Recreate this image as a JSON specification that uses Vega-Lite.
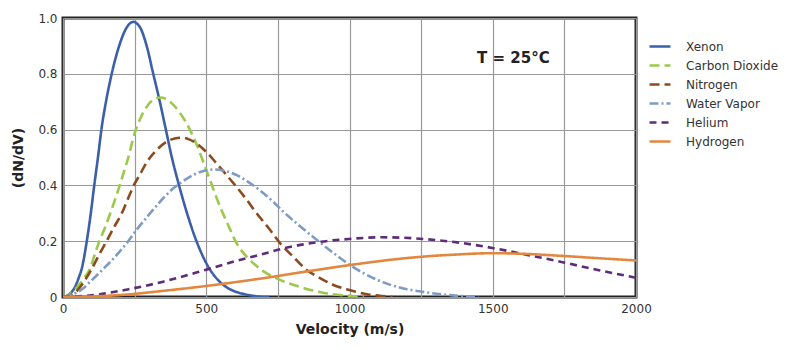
{
  "$schema": "https://vega.github.io/schema/vega-lite/v6.json",
  "width": 573,
  "height": 279,
  "autosize": {"type": "none"},
  "padding": {"left": 63, "top": 18, "right": 164, "bottom": 53},
  "background": "white",
  "config": {
    "font": "DejaVu Sans",
    "view": {"stroke": "#222", "strokeWidth": 3},
    "axis": {"grid": true, "gridColor": "#999", "gridWidth": 1.2, "domain": false, "ticks": false, "labelFlush": false, "labelFont": "DejaVu Sans", "labelFontSize": 12, "labelColor": "#333", "titleFont": "DejaVu Sans", "titleFontWeight": "bold", "titleFontSize": 14, "titleColor": "#222"}
  },
  "layer": [
    {
      "data": {"values": [
        {"gas":"Xenon","v":0,"y":0},{"gas":"Xenon","v":15,"y":0.005},{"gas":"Xenon","v":30,"y":0.018},{"gas":"Xenon","v":40,"y":0.032},{"gas":"Xenon","v":48,"y":0.05},{"gas":"Xenon","v":57,"y":0.075},{"gas":"Xenon","v":65,"y":0.1},{"gas":"Xenon","v":75,"y":0.15},{"gas":"Xenon","v":83,"y":0.2},{"gas":"Xenon","v":97,"y":0.3},{"gas":"Xenon","v":109,"y":0.4},{"gas":"Xenon","v":122,"y":0.5},{"gas":"Xenon","v":134,"y":0.6},{"gas":"Xenon","v":150,"y":0.7},{"gas":"Xenon","v":170,"y":0.8},{"gas":"Xenon","v":196,"y":0.9},{"gas":"Xenon","v":220,"y":0.962},{"gas":"Xenon","v":245,"y":0.986},{"gas":"Xenon","v":268,"y":0.968},{"gas":"Xenon","v":292,"y":0.9},{"gas":"Xenon","v":315,"y":0.8},{"gas":"Xenon","v":338,"y":0.7},{"gas":"Xenon","v":359,"y":0.6},{"gas":"Xenon","v":380,"y":0.5},{"gas":"Xenon","v":405,"y":0.4},{"gas":"Xenon","v":433,"y":0.3},{"gas":"Xenon","v":466,"y":0.2},{"gas":"Xenon","v":512,"y":0.1},{"gas":"Xenon","v":540,"y":0.062},{"gas":"Xenon","v":571,"y":0.035},{"gas":"Xenon","v":600,"y":0.02},{"gas":"Xenon","v":630,"y":0.011},{"gas":"Xenon","v":665,"y":0.004},{"gas":"Xenon","v":700,"y":0},{"gas":"Xenon","v":720,"y":0},
        {"gas":"Carbon Dioxide","v":0,"y":0},{"gas":"Carbon Dioxide","v":24,"y":0.01},{"gas":"Carbon Dioxide","v":53,"y":0.04},{"gas":"Carbon Dioxide","v":75,"y":0.07},{"gas":"Carbon Dioxide","v":94,"y":0.1},{"gas":"Carbon Dioxide","v":110,"y":0.15},{"gas":"Carbon Dioxide","v":127,"y":0.2},{"gas":"Carbon Dioxide","v":147,"y":0.25},{"gas":"Carbon Dioxide","v":165,"y":0.3},{"gas":"Carbon Dioxide","v":182,"y":0.35},{"gas":"Carbon Dioxide","v":198,"y":0.4},{"gas":"Carbon Dioxide","v":213,"y":0.45},{"gas":"Carbon Dioxide","v":228,"y":0.5},{"gas":"Carbon Dioxide","v":248,"y":0.58},{"gas":"Carbon Dioxide","v":270,"y":0.64},{"gas":"Carbon Dioxide","v":298,"y":0.69},{"gas":"Carbon Dioxide","v":320,"y":0.71},{"gas":"Carbon Dioxide","v":338,"y":0.715},{"gas":"Carbon Dioxide","v":360,"y":0.71},{"gas":"Carbon Dioxide","v":379,"y":0.695},{"gas":"Carbon Dioxide","v":408,"y":0.66},{"gas":"Carbon Dioxide","v":443,"y":0.6},{"gas":"Carbon Dioxide","v":465,"y":0.55},{"gas":"Carbon Dioxide","v":484,"y":0.5},{"gas":"Carbon Dioxide","v":502,"y":0.45},{"gas":"Carbon Dioxide","v":520,"y":0.4},{"gas":"Carbon Dioxide","v":538,"y":0.35},{"gas":"Carbon Dioxide","v":558,"y":0.3},{"gas":"Carbon Dioxide","v":580,"y":0.25},{"gas":"Carbon Dioxide","v":602,"y":0.2},{"gas":"Carbon Dioxide","v":628,"y":0.16},{"gas":"Carbon Dioxide","v":655,"y":0.13},{"gas":"Carbon Dioxide","v":700,"y":0.092},{"gas":"Carbon Dioxide","v":754,"y":0.063},{"gas":"Carbon Dioxide","v":800,"y":0.045},{"gas":"Carbon Dioxide","v":847,"y":0.03},{"gas":"Carbon Dioxide","v":900,"y":0.017},{"gas":"Carbon Dioxide","v":940,"y":0.01},{"gas":"Carbon Dioxide","v":1000,"y":0.004},{"gas":"Carbon Dioxide","v":1050,"y":0},
        {"gas":"Nitrogen","v":0,"y":0},{"gas":"Nitrogen","v":42,"y":0.016},{"gas":"Nitrogen","v":70,"y":0.05},{"gas":"Nitrogen","v":100,"y":0.1},{"gas":"Nitrogen","v":125,"y":0.15},{"gas":"Nitrogen","v":152,"y":0.2},{"gas":"Nitrogen","v":178,"y":0.25},{"gas":"Nitrogen","v":205,"y":0.3},{"gas":"Nitrogen","v":226,"y":0.35},{"gas":"Nitrogen","v":247,"y":0.4},{"gas":"Nitrogen","v":269,"y":0.44},{"gas":"Nitrogen","v":285,"y":0.47},{"gas":"Nitrogen","v":304,"y":0.5},{"gas":"Nitrogen","v":330,"y":0.53},{"gas":"Nitrogen","v":362,"y":0.557},{"gas":"Nitrogen","v":390,"y":0.568},{"gas":"Nitrogen","v":415,"y":0.571},{"gas":"Nitrogen","v":440,"y":0.565},{"gas":"Nitrogen","v":467,"y":0.55},{"gas":"Nitrogen","v":500,"y":0.52},{"gas":"Nitrogen","v":536,"y":0.479},{"gas":"Nitrogen","v":570,"y":0.438},{"gas":"Nitrogen","v":606,"y":0.394},{"gas":"Nitrogen","v":640,"y":0.35},{"gas":"Nitrogen","v":672,"y":0.305},{"gas":"Nitrogen","v":717,"y":0.248},{"gas":"Nitrogen","v":760,"y":0.19},{"gas":"Nitrogen","v":800,"y":0.148},{"gas":"Nitrogen","v":847,"y":0.1},{"gas":"Nitrogen","v":900,"y":0.066},{"gas":"Nitrogen","v":940,"y":0.045},{"gas":"Nitrogen","v":1000,"y":0.025},{"gas":"Nitrogen","v":1056,"y":0.011},{"gas":"Nitrogen","v":1100,"y":0.005},{"gas":"Nitrogen","v":1150,"y":0},
        {"gas":"Water Vapor","v":0,"y":0},{"gas":"Water Vapor","v":30,"y":0.008},{"gas":"Water Vapor","v":63,"y":0.025},{"gas":"Water Vapor","v":100,"y":0.06},{"gas":"Water Vapor","v":140,"y":0.1},{"gas":"Water Vapor","v":180,"y":0.142},{"gas":"Water Vapor","v":220,"y":0.19},{"gas":"Water Vapor","v":260,"y":0.245},{"gas":"Water Vapor","v":300,"y":0.295},{"gas":"Water Vapor","v":340,"y":0.343},{"gas":"Water Vapor","v":380,"y":0.385},{"gas":"Water Vapor","v":420,"y":0.416},{"gas":"Water Vapor","v":460,"y":0.44},{"gas":"Water Vapor","v":500,"y":0.454},{"gas":"Water Vapor","v":530,"y":0.457},{"gas":"Water Vapor","v":570,"y":0.451},{"gas":"Water Vapor","v":610,"y":0.435},{"gas":"Water Vapor","v":650,"y":0.41},{"gas":"Water Vapor","v":690,"y":0.38},{"gas":"Water Vapor","v":730,"y":0.345},{"gas":"Water Vapor","v":770,"y":0.305},{"gas":"Water Vapor","v":820,"y":0.26},{"gas":"Water Vapor","v":893,"y":0.199},{"gas":"Water Vapor","v":950,"y":0.153},{"gas":"Water Vapor","v":998,"y":0.117},{"gas":"Water Vapor","v":1050,"y":0.085},{"gas":"Water Vapor","v":1100,"y":0.06},{"gas":"Water Vapor","v":1150,"y":0.041},{"gas":"Water Vapor","v":1200,"y":0.028},{"gas":"Water Vapor","v":1253,"y":0.019},{"gas":"Water Vapor","v":1310,"y":0.011},{"gas":"Water Vapor","v":1370,"y":0.005},{"gas":"Water Vapor","v":1420,"y":0.002},{"gas":"Water Vapor","v":1450,"y":0},
        {"gas":"Helium","v":0,"y":0},{"gas":"Helium","v":100,"y":0.006},{"gas":"Helium","v":225,"y":0.027},{"gas":"Helium","v":350,"y":0.055},{"gas":"Helium","v":500,"y":0.098},{"gas":"Helium","v":600,"y":0.128},{"gas":"Helium","v":690,"y":0.152},{"gas":"Helium","v":765,"y":0.173},{"gas":"Helium","v":893,"y":0.197},{"gas":"Helium","v":998,"y":0.208},{"gas":"Helium","v":1114,"y":0.214},{"gas":"Helium","v":1230,"y":0.21},{"gas":"Helium","v":1358,"y":0.198},{"gas":"Helium","v":1503,"y":0.175},{"gas":"Helium","v":1620,"y":0.151},{"gas":"Helium","v":1747,"y":0.124},{"gas":"Helium","v":1870,"y":0.096},{"gas":"Helium","v":2000,"y":0.069},
        {"gas":"Hydrogen","v":0,"y":0},{"gas":"Hydrogen","v":100,"y":0.002},{"gas":"Hydrogen","v":225,"y":0.009},{"gas":"Hydrogen","v":350,"y":0.022},{"gas":"Hydrogen","v":504,"y":0.04},{"gas":"Hydrogen","v":600,"y":0.053},{"gas":"Hydrogen","v":690,"y":0.066},{"gas":"Hydrogen","v":847,"y":0.091},{"gas":"Hydrogen","v":998,"y":0.114},{"gas":"Hydrogen","v":1100,"y":0.128},{"gas":"Hydrogen","v":1195,"y":0.139},{"gas":"Hydrogen","v":1300,"y":0.148},{"gas":"Hydrogen","v":1370,"y":0.152},{"gas":"Hydrogen","v":1450,"y":0.156},{"gas":"Hydrogen","v":1503,"y":0.157},{"gas":"Hydrogen","v":1600,"y":0.155},{"gas":"Hydrogen","v":1747,"y":0.147},{"gas":"Hydrogen","v":1870,"y":0.139},{"gas":"Hydrogen","v":2000,"y":0.131}
      ]},
      "mark": {"type": "line", "strokeWidth": 2.6, "interpolate": "monotone", "clip": true},
      "encoding": {
        "x": {"field": "v", "type": "quantitative", "scale": {"domain": [0, 2000], "nice": false},
              "axis": {"title": "Velocity (m/s)", "values": [0,250,500,750,1000,1250,1500,1750,2000], "format": "d", "labelExpr": "datum.value % 500 == 0 ? datum.label : ''", "labelPadding": 6, "titlePadding": 8}},
        "y": {"field": "y", "type": "quantitative", "scale": {"domain": [0, 1], "nice": false},
              "axis": {"title": "(dN/dV)", "values": [0,0.1,0.2,0.3,0.4,0.5,0.6,0.7,0.8,0.9,1.0], "labelExpr": "round(datum.value*10) % 2 == 0 ? (datum.value == 0 ? '0' : format(datum.value, '.1f')) : ''", "labelPadding": 6, "titlePadding": 12}},
        "color": {"field": "gas", "type": "nominal",
                  "scale": {"domain": ["Xenon","Carbon Dioxide","Nitrogen","Water Vapor","Helium","Hydrogen"], "range": ["#3C5FA9","#9BC94A","#8E4A1C","#7E9BC6","#5E2D79","#E3873E"]},
                  "legend": {"title": null, "orient": "none", "legendX": 585, "legendY": 19, "padding": 0, "symbolType": "stroke", "symbolSize": 440, "symbolStrokeWidth": 2.6, "labelFontSize": 12, "labelColor": "#333", "labelOffset": 14, "clipHeight": 19, "rowPadding": 0}},
        "strokeDash": {"field": "gas", "type": "nominal",
                  "scale": {"domain": ["Xenon","Carbon Dioxide","Nitrogen","Water Vapor","Helium","Hydrogen"], "range": [[1,0],[10,5],[10,5],[9,3,2,3],[7,5],[1,0]]},
                  "legend": {"title": null, "orient": "none", "legendX": 585, "legendY": 19, "padding": 0, "symbolType": "stroke", "symbolSize": 440, "symbolStrokeWidth": 2.6, "labelFontSize": 12, "labelColor": "#333", "labelOffset": 14, "clipHeight": 19, "rowPadding": 0}}
      }
    },
    {
      "data": {"values": [{"note": "T = 25°C"}]},
      "mark": {"type": "text", "fontWeight": "bold", "fontSize": 15, "font": "DejaVu Sans", "color": "#222"},
      "encoding": {
        "x": {"datum": 1572, "type": "quantitative"},
        "y": {"datum": 0.858, "type": "quantitative"},
        "text": {"field": "note"}
      }
    }
  ]
}
